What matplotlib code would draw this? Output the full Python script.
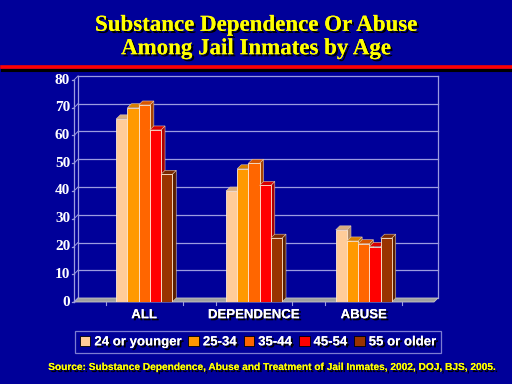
import numpy as np
import matplotlib.pyplot as plt
from matplotlib.patches import Polygon, Rectangle
import matplotlib.patheffects as pe

# Chart data
categories = ["ALL", "DEPENDENCE", "ABUSE"]
age_groups = ["24 or younger", "25-34", "35-44", "45-54", "55 or older"]
values = {
    "24 or younger": [66, 40, 26],
    "25-34": [70, 48, 22],
    "35-44": [71, 50, 21],
    "45-54": [62, 42, 20],
    "55 or older": [46, 23, 23],
}
y_ticks = [0, 10, 20, 30, 40, 50, 60, 70, 80]
title = "Substance Dependence Or Abuse\nAmong Jail Inmates by Age"
source = "Source: Substance Dependence, Abuse and Treatment of Jail Inmates, 2002, DOJ, BJS, 2005."

bg = "#000099"
front_colors = ["#FFCC99", "#FF9900", "#FF6600", "#FF0000", "#993300"]
side_colors = ["#B08A66", "#A86500", "#A84300", "#A80000", "#5A1E00"]
top_colors = ["#D9AD80", "#D98000", "#D95500", "#D90000", "#7A2800"]
grid_col = "#9C9CE0"

W, H = 512, 384
fig = plt.figure(figsize=(W / 100, H / 100), dpi=100, facecolor=bg)

shadow = [pe.withSimplePatchShadow(offset=(1.5, -1.5), shadow_rgbFace="black", alpha=1.0), pe.Normal()]

# Title and red rule
fig.text(0.5, 1 - 37 / H, title, ha="center", va="center", color="#FFFF00",
         fontsize=16.5, fontweight="bold", family="Liberation Serif", linespacing=1.15,
         path_effects=shadow)
fig.add_artist(plt.Line2D([2 / W, 1], [1 - 69.5 / H] * 2, color="black", lw=2.2))
fig.add_artist(plt.Line2D([2 / W, 1], [1 - 67 / H] * 2, color="#FF0000", lw=2.6))

# Axes frame (front plane)
x0, x1 = 74, 434
y0, y1 = 302, 80
ax = fig.add_axes([x0 / W, 1 - y0 / H, (x1 - x0) / W, (y0 - y1) / H])
ax.set_facecolor("none")
xmin, xmax = -0.64, 2.64
ax.set_xlim(xmin, xmax)
ax.set_ylim(0, 80)
ax.axis("off")

px_x = (x1 - x0) / (xmax - xmin)
px_y = (y0 - y1) / 80.0
dx = 4 / px_x
dy = 4 / px_y

# Back wall
for v in y_ticks[1:]:
    ax.plot([xmin + dx, xmax + dx], [v + dy, v + dy], color=grid_col, lw=0.9, clip_on=False)
ax.plot([xmin + dx, xmin + dx], [dy, 80 + dy], color=grid_col, lw=0.9, clip_on=False)
ax.plot([xmax + dx, xmax + dx], [dy, 80 + dy], color=grid_col, lw=0.9, clip_on=False)

# Floor
ax.add_patch(Polygon([[xmin, 0], [xmax, 0], [xmax + dx, dy], [xmin + dx, dy]],
                     closed=True, facecolor="#A0A0A0", edgecolor="#C8C8C8", lw=0.6,
                     clip_on=False, zorder=2))

# Front y-axis
ax.plot([xmin, xmin], [0, 80], color=grid_col, lw=0.9, clip_on=False)
for v in y_ticks:
    ax.plot([xmin - 0.02, xmin], [v, v], color=grid_col, lw=0.9, clip_on=False)
    ax.plot([xmin, xmin + dx], [v, v + dy], color=grid_col, lw=0.7, clip_on=False)
    ax.text(xmin - 0.035, v, str(v), ha="right", va="center", color="white",
            fontsize=11, fontweight="bold", family="Liberation Serif")

# Minor ticks on floor front
for t in [-0.35, 0.35, 0.65, 1.35, 1.65, 2.35]:
    ax.plot([t, t], [0, -1.2], color=grid_col, lw=0.8, clip_on=False)

# Bars with 3D faces
step = 0.102
x = np.arange(len(categories))
z = 3
for i, g in enumerate(age_groups):
    for j, c in enumerate(categories):
        left = x[j] + (i - 2) * step - step / 2
        h = values[g][j]
        right = left + step
        ax.add_patch(Polygon([[right, 0], [right + dx, dy], [right + dx, h + dy], [right, h]],
                             closed=True, facecolor=side_colors[i], edgecolor="#E0C8B0",
                             lw=0.4, zorder=z + j * 10 + i * 2))
        ax.add_patch(Polygon([[left, h], [right, h], [right + dx, h + dy], [left + dx, h + dy]],
                             closed=True, facecolor=top_colors[i], edgecolor="#E0C8B0",
                             lw=0.4, zorder=z + j * 10 + i * 2))
        ax.add_patch(Rectangle((left, 0), step, h, facecolor=front_colors[i],
                               edgecolor="#FFE8D0", lw=0.6, zorder=z + j * 10 + i * 2 + 1))

for j, c in enumerate(categories):
    ax.text(x[j], -2.6, c, ha="center", va="top", color="white", fontsize=9.5,
            fontweight="bold", family="Liberation Sans", path_effects=shadow)

# Legend
handles = [Rectangle((0, 0), 1, 1, facecolor=front_colors[i], edgecolor="black", lw=0.6)
           for i in range(len(age_groups))]
leg = fig.legend(handles, age_groups, loc="center", bbox_to_anchor=(258 / W, 1 - 342 / H),
                 ncol=5, frameon=True, fontsize=9.5, handlelength=0.8, handleheight=0.8,
                 handletextpad=0.3, columnspacing=0.5, borderpad=0.35, borderaxespad=0)
leg.get_frame().set_facecolor(bg)
leg.get_frame().set_edgecolor(grid_col)
leg.get_frame().set_linewidth(0.9)
leg.get_frame().set_boxstyle("square", pad=0)
for t in leg.get_texts():
    t.set_color("white")
    t.set_fontweight("bold")
    t.set_family("Liberation Sans")
    t.set_path_effects(shadow)

fig.text(272 / W, 1 - 367 / H, source, ha="center", va="center", color="#FFFF00",
         fontsize=7.3, fontweight="bold", family="Liberation Sans", path_effects=shadow)

fig.savefig("out.png", dpi=100, facecolor=bg)
